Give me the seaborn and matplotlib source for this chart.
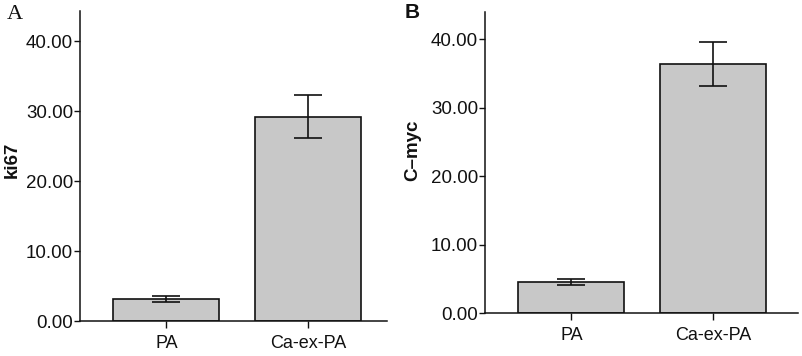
import matplotlib
matplotlib.use('Agg')
import matplotlib.pyplot as plt
import seaborn as sns
import pandas as pd

# data
groups = ['PA', 'Ca-ex-PA']
ki67_mean = [3.2, 29.2]
ki67_err = [0.4, 3.05]
cmyc_mean = [4.55, 36.4]
cmyc_err = [0.42, 3.2]
y_ticks = [0, 10, 20, 30, 40]

sns.set_theme(style='ticks')
plt.rcParams['font.family'] = ['Liberation Sans', 'DejaVu Sans']
plt.rcParams['text.color'] = '#111111'
plt.rcParams['xtick.color'] = '#111111'
plt.rcParams['ytick.color'] = '#111111'
plt.rcParams['axes.labelcolor'] = '#111111'


def draw_panel(ax, means, errs, ylabel, ymax, xmax, label_x, label_y):
    df = pd.DataFrame({'group': groups, 'value': means})
    sns.barplot(x='group', y='value', data=df, ax=ax, color='#c8c8c8',
                saturation=1, width=0.75, edgecolor='#111111', linewidth=1.2,
                errorbar=None)
    ax.errorbar(x=range(len(groups)), y=means, yerr=errs, fmt='none',
                ecolor='#111111', elinewidth=1.2, capsize=10, capthick=1.2)
    ax.set_xlim(-0.61, xmax)
    ax.set_ylim(0, ymax)
    ax.set_yticks(y_ticks)
    ax.set_yticklabels(['%.2f' % t for t in y_ticks])
    ax.set_xlabel('')
    ax.set_ylabel(ylabel, fontsize=13.5, fontweight='bold', va='center', ha='center')
    ax.yaxis.set_label_coords(label_x, label_y)
    ax.tick_params(axis='y', labelsize=13.5, length=4, width=1, pad=1)
    ax.tick_params(axis='x', labelsize=13, length=5, width=1, pad=5)
    for s in ['left', 'bottom']:
        ax.spines[s].set_linewidth(1.1)
        ax.spines[s].set_color('#111111')
    sns.despine(ax=ax)


fig = plt.figure(figsize=(8.02, 3.56), dpi=100)
ax1 = fig.add_axes([0.0998, 0.098, 0.3827, 0.871])
ax2 = fig.add_axes([0.6047, 0.12, 0.3903, 0.847])

draw_panel(ax1, ki67_mean, ki67_err, 'ki67', 44.3, 1.56, -0.222, 0.52)
draw_panel(ax2, cmyc_mean, cmyc_err, 'C\u2013myc', 44.0, 1.60, -0.23, 0.54)

fig.text(0.008, 0.958, 'A', fontsize=16, family='Liberation Serif', va='center', ha='left')
fig.text(0.504, 0.966, 'B', fontsize=15, fontweight='bold', va='center', ha='left')

fig.savefig('out.png', dpi=100)
